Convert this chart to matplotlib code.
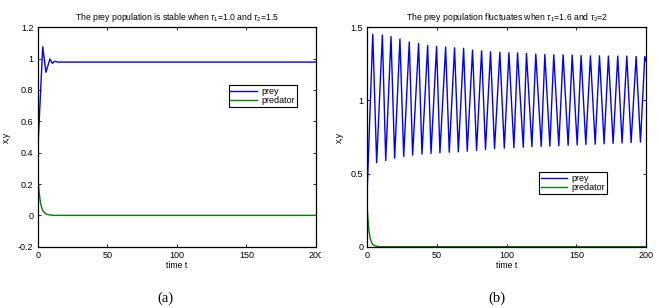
import matplotlib
matplotlib.use("Agg")
import matplotlib.pyplot as plt
from matplotlib.patches import Rectangle

plt.rcParams['font.family'] = ['Liberation Sans', 'DejaVu Sans']
plt.rcParams['mathtext.fontset'] = 'custom'
plt.rcParams['mathtext.rm'] = 'Liberation Sans'
plt.rcParams['mathtext.it'] = 'Liberation Sans:italic'

# panel (a): stable case
prey_a_t = [0, 3.6, 5.9, 8.8, 10.5, 12.1, 14.5, 200]
prey_a_x = [0.40, 1.076, 0.913, 0.998, 0.970, 0.983, 0.978, 0.978]
pred_a_t = [0, 1, 2, 3, 4, 6, 9, 12, 200]
pred_a_y = [0.26, 0.15, 0.08, 0.045, 0.025, 0.008, 0.002, 0.0, 0.0]

# panel (b): oscillating case, peaks and troughs
peak_t = [3.9, 10.8, 17.0, 23.4, 30.1, 36.8, 43.3, 49.7, 56.2, 62.6, 69.1,
          75.5, 82.0, 88.4, 95.1, 101.6, 107.8, 114.2, 120.9, 127.4, 133.8,
          140.5, 147.0, 153.4, 160.1, 166.6, 173.0, 179.7, 186.2, 192.9, 199.1]
peak_x = [1.452, 1.447, 1.436, 1.420, 1.399, 1.390, 1.376, 1.369, 1.365,
          1.360, 1.356, 1.344, 1.339, 1.333, 1.330, 1.326, 1.326, 1.321,
          1.317, 1.314, 1.312, 1.312, 1.310, 1.307, 1.305, 1.305, 1.303,
          1.303, 1.303, 1.300, 1.300]
trough_t = [6.7, 13.2, 19.6, 26.1, 32.5, 39.2, 45.7, 52.1, 58.8, 65.3, 71.7,
            78.4, 84.8, 91.3, 98.3, 105.2, 111.9, 118.1, 124.8, 131.0, 137.4,
            144.1, 150.6, 156.8, 163.5, 169.9, 176.4, 182.8, 189.3, 196.0]
trough_x = [0.574, 0.590, 0.605, 0.617, 0.626, 0.633, 0.637, 0.642, 0.646,
            0.649, 0.653, 0.658, 0.665, 0.670, 0.674, 0.677, 0.680, 0.684,
            0.686, 0.688, 0.690, 0.693, 0.696, 0.699, 0.701, 0.704, 0.706,
            0.709, 0.712, 0.715]
prey_b_start = (0, 0.41)
prey_b_end = (200, 1.27)
pred_b_t = [0, 1, 2, 3, 4, 6, 9, 200]
pred_b_y = [0.25, 0.12, 0.06, 0.03, 0.015, 0.004, 0.0, 0.0]


def zigzag(): # merge peaks and troughs into one time ordered series
    pts = [prey_b_start]
    pts += list(zip(peak_t, peak_x)) + list(zip(trough_t, trough_x))
    pts.append(prey_b_end)
    pts.sort()
    return [p[0] for p in pts], [p[1] for p in pts]


def style(ax, yticks, ylim, title, legend_xy):
    ax.set_xlim(0, 200)
    ax.set_ylim(*ylim)
    ax.set_xticks([0, 50, 100, 150, 200])
    ax.set_yticks(yticks)
    ax.tick_params(direction='in', top=True, right=True, length=2.5,
                   width=0.6, labelsize=6.5, pad=3)
    for s in ax.spines.values():
        s.set_linewidth(0.9)
    ax.set_title(title, fontsize=6.2, pad=5)
    ax.set_xlabel("time t", fontsize=6.2, labelpad=1)
    ax.set_ylabel("x,y", fontsize=6.2, labelpad=5)
    leg = ax.legend(loc='upper left', bbox_to_anchor=legend_xy, fontsize=6.5,
                    fancybox=False, framealpha=1, edgecolor='black',
                    handlelength=2.9, borderpad=0.2, labelspacing=0.05,
                    handletextpad=0.5, borderaxespad=0)
    leg.get_frame().set_linewidth(0.8)


fig = plt.figure(figsize=(6.59, 3.08), dpi=100)
ax1 = fig.add_axes([0.0572, 0.199, 0.4223, 0.7124])
ax2 = fig.add_axes([0.5574, 0.199, 0.4229, 0.7124])

ax1.plot(prey_a_t, prey_a_x, color='blue', lw=1.0, label='prey')
ax1.plot(pred_a_t, pred_a_y, color='#008000', lw=1.0, label='predator')
style(ax1, [-0.2, 0, 0.2, 0.4, 0.6, 0.8, 1, 1.2], (-0.2, 1.2),
      r'The prey population is stable when $\tau_1$=1.0 and $\tau_2$=1.5',
      (0.686, 0.737))
ax1.set_yticklabels(['-0.2', '0', '0.2', '0.4', '0.6', '0.8', '1', '1.2'])

bt, bx = zigzag()
ax2.plot(bt, bx, color='blue', lw=1.0, label='prey')
ax2.plot(pred_b_t, pred_b_y, color='#008000', lw=1.0, label='predator')
style(ax2, [0, 0.5, 1, 1.5], (0, 1.5),
      r'The prey population fluctuates when $\tau_1$=1.6 and $\tau_2$=2',
      (0.615, 0.340))
ax2.set_yticklabels(['0', '0.5', '1', '1.5'])

# the left panel's last x label is cut by the right panel in the original
fig.add_artist(Rectangle((321 / 659, 1 - 263 / 308), 24 / 659, 12 / 308,
                         transform=fig.transFigure, facecolor='white',
                         edgecolor='none', zorder=5))

fig.text(165 / 659, 1 - 298 / 308, "(a)", family='Liberation Serif',
         fontsize=10.5, ha='center', va='center')
fig.text(497 / 659, 1 - 298 / 308, "(b)", family='Liberation Serif',
         fontsize=10.5, ha='center', va='center')

fig.savefig("out.png", dpi=100)
